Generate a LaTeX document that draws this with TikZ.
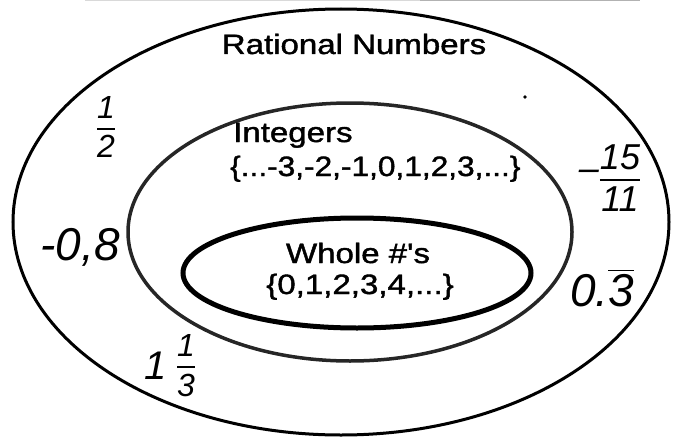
\documentclass[tikz,border=0pt]{standalone}
\usepackage{amsmath}
\usepackage{fontspec}
\setmainfont{Liberation Sans}
\newfontfamily\scanfont[FakeBold=1.3]{Liberation Sans}
\tikzset{
  setline/.style={line width=#1, draw=black},
  printed/.style={inner sep=0pt, font=\scanfont\fontsize{28}{30}\selectfont},
  hand/.style={inner sep=0pt, font=\fontsize{#1}{#1}\selectfont\itshape},
}
\newcommand\hwfrac[2]{$\genfrac{}{}{2pt}{0}{\mbox{#1}}{\mbox{#2}}$}
\begin{document}
\begin{tikzpicture}[x=1pt,y=-1pt]
\useasboundingbox (0,0) rectangle (677,444);
% faint scan edge at top
\draw[gray!30, line width=0.8pt] (85,0.6) -- (420,0.6);
\draw[gray!60, line width=1pt] (420,0.6) -- (640,0.6);
% sets
\draw[setline=3pt] (341,222) ellipse [x radius=328pt, y radius=213pt];
\draw[setline=3.5pt, draw=black!85] (350,232) ellipse [x radius=222pt, y radius=129pt];
\draw[setline=5pt] (357,273) ellipse [x radius=174pt, y radius=55pt];
% printed labels
\node[printed, anchor=base] (rat) at (354,54) {\scalebox{1.18}[1]{Rational Numbers}};
\node[printed, anchor=base west] (int) at (233,142) {\scalebox{1.18}[1]{Integers}};
\node[printed, anchor=base west] (intset) at (230,176) {\scalebox{1.13}[1]{\{...-3,-2,-1,0,1,2,3,...\}}};
\node[printed, anchor=base] (whole) at (358,263) {\scalebox{1.18}[1]{Whole \#'s}};
\node[printed, anchor=base] (wholeset) at (360,294) {\scalebox{1.18}[1]{\{0,1,2,3,4,...\}}};
% handwritten examples
\node[hand=32] (half) at (106,127) {\hwfrac{1}{2}};
\node[hand=46] (m08) at (80,247) {-0,8};
\node[hand=36] (m1511) at (610,178) {\raisebox{0.15em}{--}\hwfrac{15}{11}};
\node[hand=46] (z3) at (602,288) {0.$\overline{\mbox{3}}$};
\node[hand=40] (one) at (156,366) {1};
\node[hand=32] (third) at (186,366) {\hwfrac{1}{3}};
% stray dot
\fill (525,97) circle (1.8pt);
\end{tikzpicture}
\end{document}
